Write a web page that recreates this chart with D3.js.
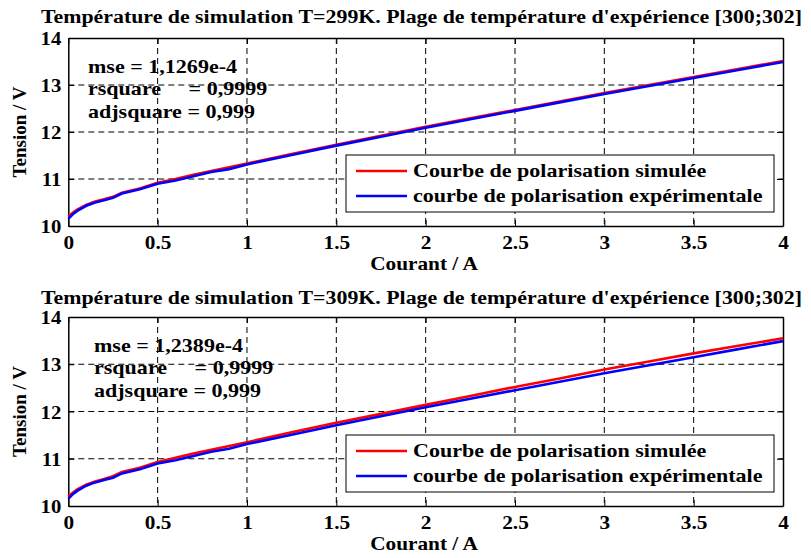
<!DOCTYPE html>
<html>
<head>
<meta charset="utf-8">
<script src="https://cdn.jsdelivr.net/npm/d3@7"></script>
<style>
  body { margin: 0; background: #fff; }
  svg text { font-family: "Liberation Serif", "Times New Roman", serif; font-weight: bold; fill: #000; }
</style>
</head>
<body>
<div id="chart"></div>
<script>
(function(){
    // Current (A)
    const current = [0, 0.025, 0.05, 0.1, 0.15, 0.2, 0.25, 0.3, 0.4, 0.5, 0.6, 0.7, 0.8, 0.9, 1.0,
        1.25, 1.5, 1.75, 2.0, 2.25, 2.5, 2.75, 3.0, 3.25, 3.5, 3.75, 4.0];
    // experimental polarisation curve (V)
    const experimental = [10.15, 10.25, 10.32, 10.43, 10.5, 10.55, 10.6, 10.69, 10.78, 10.9, 10.97, 11.06, 11.15, 11.21, 11.31,
        11.51, 11.71, 11.9, 12.09, 12.27, 12.45, 12.63, 12.81, 12.98, 13.15, 13.32, 13.49];
    // simulated, T=299K
    const simulated299 = [10.2, 10.28, 10.35, 10.45, 10.52, 10.57, 10.62, 10.71, 10.8, 10.92, 11.0, 11.09, 11.17, 11.25, 11.33,
        11.53, 11.73, 11.92, 12.11, 12.29, 12.47, 12.65, 12.83, 13.0, 13.17, 13.34, 13.51];
    // simulated, T=309K
    const simulated309 = [10.2, 10.28, 10.35, 10.45, 10.52, 10.57, 10.63, 10.72, 10.81, 10.93, 11.02, 11.11, 11.19, 11.27, 11.35,
        11.56, 11.76, 11.95, 12.14, 12.33, 12.52, 12.7, 12.89, 13.06, 13.23, 13.39, 13.55];

    const xTicks = [0, 0.5, 1, 1.5, 2, 2.5, 3, 3.5, 4];
    const yTicks = [10, 11, 12, 13, 14];
    const titles = [
        "Température de simulation T=299K. Plage de température d'expérience [300;302]",
        "Température de simulation T=309K. Plage de température d'expérience [300;302]"
    ];
    const stats = [
        ["mse = 1,1269e-4", "rsquare\u00a0\u00a0\u00a0\u00a0 = 0,9999", "adjsquare = 0,999"],
        ["mse = 1,2389e-4", "rsquare\u00a0\u00a0\u00a0\u00a0 = 0,9999", "adjsquare = 0,999"]
    ];
    const legendLabels = ["Courbe de polarisation simulée", "courbe de polarisation expérimentale"];
    const seriesColors = ["#ff0000", "#0000ff"];

    const width = 811, height = 558;
    const svg = d3.select("#chart").append("svg")
        .attr("width", width).attr("height", height);

    // the original export draws Times a bit wider than it is tall
    function stretch(sel, k) {
        sel.each(function() {
            const w = this.getComputedTextLength();
            d3.select(this).attr("textLength", w * k).attr("lengthAdjust", "spacingAndGlyphs");
        });
    }

    const left = 68.3, right = 783;
    const panels = [
        { top: 38, bottom: 226, sim: simulated299, title: titles[0], stats: stats[0], statX: 88, titleY: 23 },
        { top: 317, bottom: 506, sim: simulated309, title: titles[1], stats: stats[1], statX: 94, titleY: 304 }
    ];

    panels.forEach(p => {
        const x = d3.scaleLinear().domain([0, 4]).range([left, right]);
        const y = d3.scaleLinear().domain([10, 14]).range([p.bottom, p.top]);
        const g = svg.append("g");

        // grid
        g.append("g").selectAll("line")
            .data(xTicks.slice(1, -1)).enter().append("line")
            .attr("x1", d => x(d)).attr("x2", d => x(d))
            .attr("y1", p.top).attr("y2", p.bottom)
            .attr("stroke", "#000").attr("stroke-width", 1).attr("stroke-dasharray", "6,4");
        g.append("g").selectAll("line")
            .data(yTicks.slice(1, -1)).enter().append("line")
            .attr("y1", d => y(d)).attr("y2", d => y(d))
            .attr("x1", left).attr("x2", right)
            .attr("stroke", "#000").attr("stroke-width", 1).attr("stroke-dasharray", "6,4");

        // axes with inward ticks
        const xAxis = g.append("g").attr("transform", `translate(0,${p.bottom})`)
            .call(d3.axisBottom(x).tickValues(xTicks).tickFormat(d3.format("")).tickSizeInner(-6).tickSizeOuter(0).tickPadding(10));
        g.append("g").attr("transform", `translate(0,${p.top})`)
            .call(d3.axisTop(x).tickValues(xTicks).tickFormat("").tickSizeInner(-6).tickSizeOuter(0));
        const yAxis = g.append("g").attr("transform", `translate(${left},0)`)
            .call(d3.axisLeft(y).tickValues(yTicks).tickFormat(d3.format("d")).tickSizeInner(-6).tickSizeOuter(0).tickPadding(7));
        g.append("g").attr("transform", `translate(${right},0)`)
            .call(d3.axisRight(y).tickValues(yTicks).tickFormat("").tickSizeInner(-6).tickSizeOuter(0));
        g.selectAll(".domain").attr("stroke", "#000").attr("stroke-width", 1.5);
        g.selectAll(".tick line").attr("stroke", "#000").attr("stroke-width", 1);
        xAxis.selectAll("text").attr("font-size", 18.5).attr("dy", "0.71em").call(stretch, 1.15);
        yAxis.selectAll("text").attr("font-size", 18.5).attr("dy", "0.36em").call(stretch, 1.12);

        // curves
        const line = d3.line().x((d, i) => x(current[i])).y(d => y(d));
        g.append("path").datum(p.sim).attr("d", line)
            .attr("fill", "none").attr("stroke", seriesColors[0]).attr("stroke-width", 2.6);
        g.append("path").datum(experimental).attr("d", line)
            .attr("fill", "none").attr("stroke", seriesColors[1]).attr("stroke-width", 2.6);

        // title
        g.append("text").attr("x", 421.5).attr("y", p.titleY).attr("text-anchor", "middle")
            .attr("font-size", 18).attr("textLength", 761).attr("lengthAdjust", "spacingAndGlyphs")
            .text(p.title);

        // axis labels
        g.append("text").attr("x", 424).attr("y", p.bottom + 44).attr("text-anchor", "middle")
            .attr("font-size", 19).text("Courant / A").call(stretch, 1.12);
        g.append("text").attr("transform", `translate(26,${(p.top + p.bottom) / 2}) rotate(-90)`)
            .attr("text-anchor", "middle").attr("font-size", 19).text("Tension / V");

        // statistics
        g.append("g").selectAll("text").data(p.stats).enter().append("text")
            .attr("x", p.statX).attr("y", (d, i) => p.top + 35 + i * 22.3)
            .attr("font-size", 19).text(d => d).call(stretch, 1.16);

        // legend
        const lg = g.append("g").attr("transform", `translate(346,${p.bottom - 71})`);
        lg.append("rect").attr("width", 428).attr("height", 57)
            .attr("fill", "#fff").attr("stroke", "#000").attr("stroke-width", 1);
        legendLabels.forEach((t, i) => {
            lg.append("line").attr("x1", 10).attr("x2", 61)
                .attr("y1", 16 + i * 25).attr("y2", 16 + i * 25)
                .attr("stroke", seriesColors[i]).attr("stroke-width", 2.6);
            lg.append("text").attr("x", 67).attr("y", 22 + i * 25)
                .attr("font-size", 19).text(t).call(stretch, 1.16);
        });
    });
})();
</script>
</body>
</html>
